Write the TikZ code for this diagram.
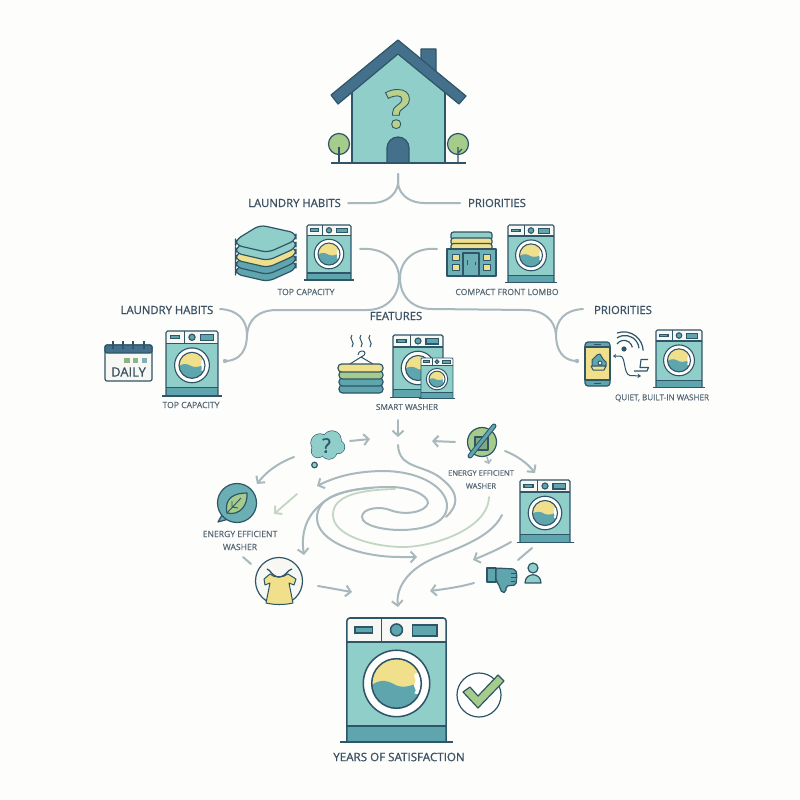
\documentclass[tikz,border=0pt]{standalone}
\usepackage{fontspec}
\setmainfont{Open Sans}
\newfontfamily\hfont[FakeBold=1.1]{Open Sans}
\newfontfamily\sfont[FakeBold=0.4]{Open Sans}
\newfontfamily\qfont[BoldFeatures={FakeBold=1.6}]{Open Sans}
\usetikzlibrary{arrows.meta}
\definecolor{ink}{HTML}{2F5568}
\definecolor{roofc}{HTML}{44708C}
\definecolor{bodyc}{HTML}{8FCEC9}
\definecolor{deep}{HTML}{5FA5AE}
\definecolor{sun}{HTML}{F0E08C}
\definecolor{leafc}{HTML}{A6CC8B}
\definecolor{paper}{HTML}{FDFDFC}
\definecolor{panelc}{HTML}{F7F8F3}
\definecolor{wire}{HTML}{A8B8BD}
\definecolor{pale}{HTML}{C3D6C3}
\definecolor{headc}{HTML}{3B5163}
\definecolor{smallc}{HTML}{566875}
\tikzset{
  x=1pt,y=-1pt,
  head/.style={font=\hfont\fontsize{11.3}{12}\selectfont,text=headc,inner sep=0pt},
  small/.style={font=\sfont\fontsize{8.6}{13}\selectfont,text=smallc,inner sep=0pt,align=center},
  icon/.style={draw=ink,line width=1.2pt,line join=round},
  wireline/.style={draw=wire,line width=2pt,line cap=round},
  palewire/.style={draw=pale,line width=1.8pt,line cap=round},
  tip/.style={-{Straight Barb[length=5pt,width=11pt,line width=2pt]}},
}
\newcommand\washer[4]{%
  \pgfmathsetmacro\wl{0.7+0.85*#4}%
  \begin{scope}[shift={(#2,#3)},scale=#4,line width=\wl pt,draw=ink]
    \coordinate (#1) at (0,66);
    \fill[bodyc] (-50,24) rectangle (50,125);
    \fill[deep] (-50,109) rectangle (50,125);
    \fill[panelc,rounded corners=3*#4 pt] (-50,24) -- (-50,0) -- (50,0) -- (50,24) -- cycle;
    \draw[rounded corners=3*#4 pt] (-50,125) -- (-50,0) -- (50,0) -- (50,125);
    \draw (-50,24) -- (50,24) (-50,109) -- (50,109) (-15,0) -- (-15,24);
    \draw (-57,125) -- (57,125);
    \draw[fill=deep] (-42,9) rectangle (-24,15);
    \draw[fill=deep] (16,7) rectangle (41,18);
    \draw[fill=deep] (0,12) circle[radius=6];
    \draw[fill=white] (0,66) circle[radius=33.5];
    \begin{scope}
      \clip (0,66) circle[radius=25];
      \fill[sun] (-26,40) rectangle (26,92);
      \fill[deep] (-26,68) .. controls (-14,60) and (-8,64) .. (0,68) .. controls (8,71) and (16,68) .. (26,64) -- (26,92) -- (-26,92) -- cycle;
      \fill[white] (26,54) -- (19,56) .. controls (15,59) and (22,62) .. (18,66) .. controls (16,70) and (22,72) .. (18,76) -- (26,78) -- cycle;
    \end{scope}
    \draw (0,66) circle[radius=25];
  \end{scope}}
\newcommand\towel[2]{%
  \draw[icon,fill=#2,rounded corners=6pt,yshift=-#1pt]
    (235.5,240) -- (260,225) -- (296,233) -- (296,240) -- (268,252.5) -- (235.5,245) -- cycle;}
\begin{document}
\begin{tikzpicture}
\useasboundingbox (0,0) rectangle (800,800);
\fill[paper] (0,0) rectangle (800,800);

% ---------- house
\coordinate (house) at (398,110);
\fill[bodyc] (352,163) -- (352,84) -- (398,54) -- (445,84) -- (445,163) -- cycle;
\draw[icon] (352,163) -- (352,92) (445,92) -- (445,163);
\draw[icon,fill=roofc] (421,70) -- (421,49) -- (436,49) -- (436,80) -- cycle;
\draw[icon,fill=roofc] (398,40) -- (466,96) -- (459,104) -- (398,54) -- (338,104) -- (331,95) -- cycle;
\draw[icon,fill=roofc] (387,163) -- (387,148) arc[start angle=-180,end angle=0,radius=11] -- (409,163) -- cycle;
\draw[icon] (331,163) -- (466,163);
\draw[icon,fill=leafc] (339,144) circle[radius=10.5];
\draw[icon] (339,163) -- (339,147);
\draw[icon,fill=leafc] (458,144) circle[radius=10.5];
\draw[icon] (458,163) -- (458,147) (458,153) -- (462,149);
\node[inner sep=0pt,font=\qfont\bfseries\fontsize{53}{53}\selectfont] (housequery) at (398,109) {\color{leafc!75!sun}\special{pdf: code 0.184 0.333 0.408 RG}?};

% ---------- top labels
\node[head] (habitsA) at (294.5,203) {LAUNDRY HABITS};
\node[head] (prioA) at (497,203) {PRIORITIES};
\coordinate (rootTop) at (398,174);
\coordinate (habitsAend) at (348,203);
\coordinate (prioAend) at (460,203);
\draw[wireline] (rootTop) -- (398,184) .. controls (396,196) and (385,203) .. (372,203) -- (habitsAend);
\draw[wireline] (rootTop) -- (398,184) .. controls (400,196) and (411,203) .. (424,203) -- (prioAend);

% ---------- row 1
\towel{29}{deep}
\towel{22}{deep}
\towel{15}{sun}
\towel{8}{bodyc}
\towel{0}{bodyc}
\washer{w1}{329}{225}{0.44}
\node[small] (topA) at (306,292) {TOP CAPACITY};

\draw[icon,fill=bodyc,rounded corners=2.5pt] (451,232) -- (492,232) -- (492,240) -- (451,240) -- cycle;
\draw[icon,fill=sun,rounded corners=2.5pt] (451,238) -- (492,238) -- (492,245) -- (451,245) -- cycle;
\draw[icon,fill=sun,rounded corners=2.5pt] (451,243.5) -- (492,243.5) -- (492,250) -- (451,250) -- cycle;
\draw[icon,fill=deep!70!bodyc] (447,249) rectangle (496,276);
\draw[icon,fill=deep!70!bodyc] (463,253) rectangle (479,276);
\draw[line width=.8pt,draw=ink] (467,260) -- (467,265) (475,262) -- (475,265);
\foreach \px in {452,483} \foreach \py in {254,264} {\draw[icon,line width=1pt,fill=sun] (\px,\py) rectangle +(7.5,6.5);}
\washer{w2}{531}{225}{0.46}
\node[small] (compactA) at (507,292) {COMPACT FRONT LOMBO};

% ---------- row 2 labels and connectors
\node[head] (habitsB) at (167,310) {LAUNDRY HABITS};
\node[head] (prioB) at (623,310) {PRIORITIES};
\node[head] (features) at (396,316) {FEATURES};
\coordinate (w1out) at (360,249);
\coordinate (w2out) at (437,249);
\coordinate (leftJoin) at (247,335);
\coordinate (rightJoin) at (556,335);
\coordinate (habitsBend) at (220,309);
\coordinate (prioBend) at (583,309);
\coordinate (leftIn) at (225,361);
\coordinate (rightIn) at (577,361);
\draw[wireline] (w1out) .. controls (383,247) and (399,260) .. (399,278) .. controls (399,298) and (385,310) .. (367,310) -- (277,310) .. controls (258,310) and (248,320) .. (leftJoin);
\draw[wireline] (habitsBend) .. controls (238,310) and (247,320) .. (leftJoin) .. controls (247,350) and (240,361) .. (leftIn);
\fill[wire] (leftIn) circle[radius=2.2];
\draw[wireline] (w2out) .. controls (415,247) and (400,260) .. (400,278) .. controls (400,298) and (414,309) .. (432,309) -- (525,310) .. controls (544,310) and (555,320) .. (rightJoin);
\draw[wireline] (prioBend) .. controls (565,310) and (556,320) .. (rightJoin) .. controls (556,350) and (563,361) .. (rightIn);
\fill[wire] (rightIn) circle[radius=2.2];

% ---------- row 2 icons
\draw[icon,fill=panelc,rounded corners=2pt] (105,345) rectangle (152,381);
\draw[icon,fill=roofc,rounded corners=2pt] (105,353) -- (105,345) -- (152,345) -- (152,353) -- cycle;
\foreach \px in {113,123,133,144} {\draw[icon] (\px,341) -- (\px,349);}
\fill[leafc!80!ink] (124,358) rectangle (130,363);
\fill[leafc!80!ink] (133,358) rectangle (138,363);
\fill[deep!70!ink!70] (142,358) rectangle (147,363);
\node[inner sep=0pt,text=headc,font=\sfont\fontsize{13}{14}\selectfont] (daily) at (128.5,372) {DAILY};
\washer{w3}{192}{331}{0.52}
\node[small] (topB) at (191,405) {TOP CAPACITY};

% steam, hanger and towels
\foreach \px in {352,361,370} {\draw[icon,line width=1pt] (\px,335) .. controls (\px-4,339) and (\px+4,342) .. (\px,347);}
\draw[icon,line width=1pt] (358,355) .. controls (358,350) and (365,350) .. (365,353) .. controls (365,356) and (361,356) .. (361,358);
\draw[icon,line width=1pt] (350,364) -- (361,357) -- (373,364);
\draw[icon,fill=deep,rounded corners=3.5pt] (339,385) rectangle (383,393);
\draw[icon,fill=deep,rounded corners=3.5pt] (339,378) rectangle (383,386);
\draw[icon,fill=leafc,rounded corners=3.5pt] (339,371) rectangle (383,379);
\draw[icon,fill=sun,rounded corners=3.5pt] (338,364) rectangle (383,372);
\washer{w4}{418}{335}{0.5}
\washer{w5}{437}{358}{0.32}
\node[small,font=\sfont\fontsize{8.3}{13}\selectfont] (smart) at (407,407) {SMART WASHER};

% phone, wifi
\draw[icon,fill=deep,rounded corners=3pt] (585,342) rectangle (610,386);
\draw[icon,fill=sun] (585,347) rectangle (610,380);
\draw[icon,line width=.9pt] (594,344.5) -- (601,344.5) (594,383) -- (601,383);
\draw[icon,line width=1pt,fill=deep] (592,360) -- (597,355) -- (600,354) -- (603,359) -- (606,362) -- (606,366) -- (592,366) -- cycle;
\draw[icon,line width=1pt,fill=sun] (591,366) -- (606,366) -- (604,370) -- (593,370) -- cycle;
\draw[icon,line width=1pt,fill=panelc] (600,363) circle[radius=2];
\fill[ink] (624,349) circle[radius=2.6];
\draw[icon] (617,344) arc[start angle=-145,end angle=-10,radius=8.5];
\draw[icon] (617,338) arc[start angle=-125,end angle=-5,radius=14];
\draw[icon] (617,333) arc[start angle=-110,end angle=-2,radius=19.5];
\draw[icon,{Stealth[length=3pt,width=4pt]}-{Stealth[length=3.5pt,width=4.5pt]},line width=1pt] (613,356) -- (620,356) .. controls (626,356) and (623,374) .. (630,375.5) -- (641,376);
\draw[icon,line width=1.1pt] (648,359.5) -- (641,359.5) -- (640,367.5) -- (648.5,367.5) -- (647,371) -- (634,371);
\washer{w6}{679}{330}{0.46}
\node[small,font=\sfont\fontsize{8.1}{13}\selectfont] (quiet) at (662,398) {QUIET, BUILT-IN WASHER};

% ---------- swirl
\coordinate (featIn) at (398,420);
\coordinate (featTip) at (398,437);
\draw[wireline,tip] (featIn) -- (featTip);
\coordinate (swA) at (398,445);
\coordinate (swAend) at (446,517);
\draw[wireline] (swA) .. controls (399,470) and (426,464) .. (443,480) .. controls (460,494) and (458,506) .. (swAend);
\coordinate (inner) at (428,503);
\coordinate (swBtip) at (317,486);
\draw[wireline,tip] (inner) .. controls (426,512) and (405,516) .. (390,510) .. controls (380,506) and (362,508) .. (362,517) .. controls (362,526) and (385,530) .. (400,530) .. controls (420,530) and (447,525) .. (447,506) .. controls (447,490) and (425,472) .. (385,471) .. controls (355,471) and (335,477) .. (swBtip);
\coordinate (swCtip) at (304,555);
\draw[wireline,tip] (inner) .. controls (428,495) and (410,487) .. (390,487) .. controls (360,487) and (333,492) .. (320,505) .. controls (305,518) and (301,535) .. (swCtip);
\coordinate (swEstart) at (372,488);
\coordinate (swEtip) at (417,557);
\draw[wireline,tip] (swEstart) .. controls (340,490) and (317,498) .. (317,518) .. controls (317,542) and (360,557) .. (400,557) -- (swEtip);
\coordinate (swG) at (489,497);
\coordinate (swGstart) at (395,489);
\draw[palewire] (swGstart) .. controls (360,490) and (333,495) .. (333,515) .. controls (333,535) and (370,546) .. (400,547) .. controls (430,548) and (488,530) .. (swG);
\coordinate (swD) at (502,515);
\coordinate (swDtip) at (398,607);
\draw[wireline,tip] (swD) .. controls (490,540) and (450,550) .. (430,560) .. controls (405,572) and (396,590) .. (swDtip);

% ---------- ring arrows
\coordinate (qA) at (350,441); \coordinate (qB) at (370,439);
\draw[wireline,tip] (qA) -- (qB);
\coordinate (qC) at (294,457); \coordinate (qD) at (257,484);
\draw[wireline,tip] (qC) .. controls (278,463) and (266,472) .. (qD);
\coordinate (gA) at (297,494); \coordinate (gB) at (274,514);
\draw[palewire,tip] (gA) -- (gB);
\coordinate (dA) at (243,557); \coordinate (dB) at (251,564);
\draw[wireline] (dA) -- (dB);
\coordinate (sA) at (318,586); \coordinate (sB) at (352,592);
\draw[wireline,tip] (sA) .. controls (330,588) and (340,590) .. (sB);
\coordinate (rA) at (455,442); \coordinate (rB) at (432,441);
\draw[wireline,tip] (rA) -- (rB);
\coordinate (rC) at (487,457); \coordinate (rD) at (489,464);
\draw[wireline,line width=1.5pt,-{Straight Barb[length=3pt,width=7pt]}] (rC) -- (rD);
\coordinate (rE) at (505,451); \coordinate (rF) at (535,473);
\draw[wireline,tip] (rE) .. controls (518,456) and (528,464) .. (rF);
\coordinate (rG) at (511,542); \coordinate (rH) at (473,560);
\draw[wireline,tip] (rG) .. controls (497,550) and (485,555) .. (rH);
\coordinate (rI) at (532,548); \coordinate (rJ) at (518,560);
\draw[wireline] (rI) -- (rJ);
\coordinate (rK) at (474,583); \coordinate (rL) at (430,591);
\draw[wireline,tip] (rK) .. controls (460,587) and (445,589) .. (rL);

% ---------- thought bubble
\foreach \cx/\cy/\cr in {320/443/9,332/440/9,338/447/6.5,329/451/8,318/451/6.5} {\draw[icon] (\cx,\cy) circle[radius=\cr];}
\foreach \cx/\cy/\cr in {320/443/9,332/440/9,338/447/6.5,329/451/8,318/451/6.5} {\fill[bodyc] (\cx,\cy) circle[radius=\cr];}
\draw[icon,fill=bodyc] (314.5,465) circle[radius=2.8];
\node[inner sep=0pt,text=ink,font=\hfont\fontsize{20}{20}\selectfont] (bubbleq) at (326.5,445.5) {?};

% ---------- leaf bubble
\draw[icon,fill=deep!75!bodyc] (222,515) -- (218,522) -- (227,519.5) -- cycle;
\draw[icon,fill=deep!75!bodyc] (237,503) circle[radius=19.5];
\fill[deep!75!bodyc] (225,513) -- (224,517) -- (228,516) -- cycle;
\draw[icon,fill=leafc] (227,513) .. controls (224,498) and (234,493) .. (247,493) .. controls (248,505) and (240,516) .. cycle;
\draw[icon,line width=.9pt] (227,513) -- (241,498) (232,507) -- (232,501) (232,507) -- (238,508);
\node[small] (energyA) at (240,540.5) {ENERGY EFFICIENT\\WASHER};

% ---------- shirt
\draw[icon,fill=panelc] (279,581) circle[radius=23.5];
\draw[icon,fill=sun,line width=1pt] (264,579) -- (270,574) .. controls (274,578) and (283,578) .. (288,574) -- (296,579) -- (294,585) -- (289,583) -- (293,603) .. controls (285,605) and (274,605) .. (266,603) -- (270,583) -- (265,585) -- cycle;
\draw[icon,line width=1.3pt] (267,569) .. controls (271,570) and (271,576) .. (279,577) .. controls (287,576) and (287,570) .. (292,569);

% ---------- no-energy icon
\draw[icon,fill=leafc] (482,442) circle[radius=14.5];
\draw[icon,fill=leafc!70!ink] (475,437) rectangle (488,450);
\draw[draw=ink,line width=5pt,line cap=round] (470,456) -- (494,426);
\draw[draw=deep,line width=3pt,line cap=round] (470,456) -- (494,426);
\node[small,font=\sfont\fontsize{7.6}{13}\selectfont] (energyB) at (481,479.5) {ENERGY EFFICIENT\\WASHER};

\washer{w7}{545}{480}{0.5}

% ---------- thumb down, person
\draw[icon,fill=deep] (487,568) rectangle (496,582);
\draw[icon,fill=deep,rounded corners=2pt] (496,568) -- (515,569) -- (517,574) -- (516,585) -- (506,586) -- (506,592) -- (502,593) -- (498,583) -- (496,581) -- cycle;
\draw[icon,line width=.8pt] (511,573) -- (516,573) (511,577) -- (516,577) (511,581) -- (515,581);
\draw[icon,fill=bodyc] (533,568) circle[radius=5];
\draw[icon,fill=bodyc] (525,583) .. controls (525,572) and (541,572) .. (541,583) -- cycle;

% ---------- final washer and check
\washer{w8}{396.5}{618}{0.992}
\draw[icon,fill=white] (479,695) circle[radius=22];
\draw[icon,fill=leafc] (463,692) -- (470,687) -- (478,696) -- (498,675) -- (504,681) -- (478,708) -- cycle;
\node[head,font=\hfont\fontsize{11.6}{12}\selectfont] (years) at (399,757) {YEARS OF SATISFACTION};
\end{tikzpicture}
\end{document}
